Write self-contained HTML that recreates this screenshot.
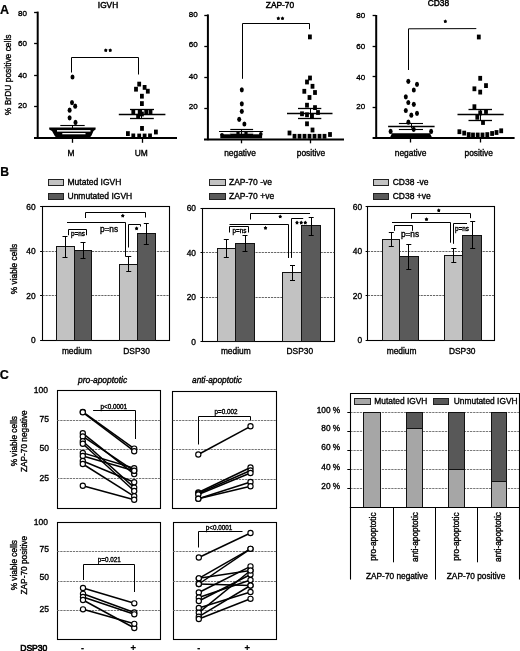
<!DOCTYPE html>
<html><head><meta charset="utf-8"><style>
html,body{margin:0;padding:0;background:#fff;}
body{width:520px;height:651px;overflow:hidden;}
svg{display:block;font-family:"Liberation Sans", sans-serif;}
text{-webkit-font-smoothing:antialiased;}
</style></head><body>
<svg style="filter:grayscale(1)" width="520" height="651" viewBox="0 0 520 651">
<rect width="520" height="651" fill="#fff"/>
<text x="4.6" y="10.0" font-size="12.5" text-anchor="middle" font-weight="bold" font-style="normal" fill="#000" stroke="#000" stroke-width="0.2" dominant-baseline="central">A</text>
<line x1="37.7" y1="11.6" x2="37.7" y2="138.9" stroke="#000" stroke-width="2.0"/>
<line x1="34.1" y1="12.5" x2="37.7" y2="12.5" stroke="#000" stroke-width="1.3"/>
<text x="27.0" y="13.0" font-size="8.0" text-anchor="end" font-weight="normal" font-style="normal" fill="#000" stroke="#000" stroke-width="0.35" dominant-baseline="central">80</text>
<line x1="34.1" y1="43.5" x2="37.7" y2="43.5" stroke="#000" stroke-width="1.3"/>
<text x="27.0" y="43.5" font-size="8.0" text-anchor="end" font-weight="normal" font-style="normal" fill="#000" stroke="#000" stroke-width="0.35" dominant-baseline="central">60</text>
<line x1="34.1" y1="75.5" x2="37.7" y2="75.5" stroke="#000" stroke-width="1.3"/>
<text x="27.0" y="75.1" font-size="8.0" text-anchor="end" font-weight="normal" font-style="normal" fill="#000" stroke="#000" stroke-width="0.35" dominant-baseline="central">40</text>
<line x1="34.1" y1="106.5" x2="37.7" y2="106.5" stroke="#000" stroke-width="1.3"/>
<text x="27.0" y="105.5" font-size="8.0" text-anchor="end" font-weight="normal" font-style="normal" fill="#000" stroke="#000" stroke-width="0.35" dominant-baseline="central">20</text>
<line x1="34.0" y1="138.1" x2="177" y2="138.1" stroke="#000" stroke-width="2.0"/>
<text x="108" y="4.8" font-size="8.3" text-anchor="middle" font-weight="normal" font-style="normal" fill="#000" stroke="#000" stroke-width="0.45" dominant-baseline="central">IGVH</text>
<text x="8.2" y="74.8" font-size="8.45" text-anchor="middle" font-weight="normal" font-style="normal" fill="#000" stroke="#000" stroke-width="0.35" dominant-baseline="central" transform="rotate(-90 8.2 74.8)">% BrDU positive cells</text>
<line x1="72.5" y1="138.5" x2="72.5" y2="142.8" stroke="#000" stroke-width="1.3"/>
<line x1="142.5" y1="138.5" x2="142.5" y2="142.8" stroke="#000" stroke-width="1.3"/>
<text x="71" y="153.2" font-size="8.4" text-anchor="middle" font-weight="normal" font-style="normal" fill="#000" stroke="#000" stroke-width="0.35" dominant-baseline="central">M</text>
<text x="141.3" y="153.2" font-size="8.4" text-anchor="middle" font-weight="normal" font-style="normal" fill="#000" stroke="#000" stroke-width="0.35" dominant-baseline="central">UM</text>
<polyline points="71.5,72.5 71.5,57.5 138.5,57.5 138.5,74.5" fill="none" stroke="#000" stroke-width="1.0"/>
<polygon points="105.8,48.17 106.46,49.34 107.73,49.64 106.87,50.67 106.99,52.02 105.8,51.48 104.61,52.02 104.73,50.67 103.87,49.64 105.14,49.34" fill="#000"/>
<ellipse cx="105.8" cy="50.4" rx="1.2000000000000002" ry="1.2000000000000002" fill="#000"/>
<polygon points="110.2,48.17 110.86,49.34 112.13,49.64 111.27,50.67 111.39,52.02 110.2,51.48 109.01,52.02 109.13,50.67 108.27,49.64 109.54,49.34" fill="#000"/>
<ellipse cx="110.2" cy="50.4" rx="1.2000000000000002" ry="1.2000000000000002" fill="#000"/>
<ellipse cx="72.5" cy="77" rx="2.0" ry="2.6" fill="#000"/>
<ellipse cx="72" cy="102.6" rx="2.0" ry="2.6" fill="#000"/>
<ellipse cx="75.2" cy="106.2" rx="2.0" ry="2.6" fill="#000"/>
<ellipse cx="69.6" cy="110.2" rx="2.0" ry="2.6" fill="#000"/>
<ellipse cx="69.6" cy="117.8" rx="2.0" ry="2.6" fill="#000"/>
<ellipse cx="75.5" cy="122.4" rx="2.0" ry="2.6" fill="#000"/>
<polygon points="49.2,127.6 95.6,127.6 95.6,129.4 93.5,131 91.5,135.5 89.5,138 56.5,138 54.5,135.5 52,131 49.2,129.4" fill="#000"/>
<rect x="57" y="130.1" width="33.5" height="1.5" fill="#fff"/>
<rect x="62.3" y="133.0" width="23.2" height="1.3" fill="#fff"/>
<line x1="60.3" y1="125.5" x2="84.7" y2="125.5" stroke="#000" stroke-width="1.1"/>
<line x1="72.5" y1="125.9" x2="72.5" y2="130" stroke="#000" stroke-width="1.0"/>
<line x1="62" y1="132.5" x2="85.7" y2="132.5" stroke="#000" stroke-width="0.9"/>
<rect x="137.3" y="81.7" width="3.8" height="4.8" fill="#000"/>
<rect x="134.1" y="86.8" width="3.8" height="4.8" fill="#000"/>
<rect x="142.7" y="85.0" width="3.8" height="4.8" fill="#000"/>
<rect x="145.9" y="88.8" width="3.8" height="4.8" fill="#000"/>
<rect x="140.0" y="93.8" width="3.8" height="4.8" fill="#000"/>
<rect x="140.0" y="101.2" width="3.8" height="4.8" fill="#000"/>
<rect x="131.4" y="109.6" width="3.8" height="4.8" fill="#000"/>
<rect x="137.8" y="109.9" width="3.8" height="4.8" fill="#000"/>
<rect x="144.3" y="109.6" width="3.8" height="4.8" fill="#000"/>
<rect x="148.6" y="109.9" width="3.8" height="4.8" fill="#000"/>
<rect x="136.2" y="113.9" width="3.8" height="4.8" fill="#000"/>
<rect x="140.0" y="111.6" width="3.8" height="4.8" fill="#000"/>
<rect x="140.1" y="126.0" width="3.8" height="4.8" fill="#000"/>
<rect x="126.0" y="131.2" width="3.8" height="4.8" fill="#000"/>
<rect x="131.4" y="133.5" width="3.8" height="4.8" fill="#000"/>
<rect x="137.3" y="133.6" width="3.8" height="4.8" fill="#000"/>
<rect x="142.7" y="133.6" width="3.8" height="4.8" fill="#000"/>
<rect x="148.1" y="133.5" width="3.8" height="4.8" fill="#000"/>
<rect x="154.0" y="129.6" width="3.8" height="4.8" fill="#000"/>
<line x1="118.8" y1="114.5" x2="165.4" y2="114.5" stroke="#000" stroke-width="1.5"/>
<line x1="130" y1="109.5" x2="154" y2="109.5" stroke="#000" stroke-width="1.3"/>
<line x1="130" y1="118.5" x2="153.8" y2="118.5" stroke="#000" stroke-width="1.3"/>
<line x1="141.5" y1="109.5" x2="141.5" y2="118.8" stroke="#000" stroke-width="1.0"/>
<line x1="207.9" y1="14.4" x2="207.9" y2="140.20000000000002" stroke="#000" stroke-width="2.0"/>
<line x1="204.3" y1="15.5" x2="207.9" y2="15.5" stroke="#000" stroke-width="1.3"/>
<text x="197.7" y="14.2" font-size="8.0" text-anchor="end" font-weight="normal" font-style="normal" fill="#000" stroke="#000" stroke-width="0.35" dominant-baseline="central">80</text>
<line x1="204.3" y1="46.5" x2="207.9" y2="46.5" stroke="#000" stroke-width="1.3"/>
<text x="197.7" y="44.5" font-size="8.0" text-anchor="end" font-weight="normal" font-style="normal" fill="#000" stroke="#000" stroke-width="0.35" dominant-baseline="central">60</text>
<line x1="204.3" y1="77.5" x2="207.9" y2="77.5" stroke="#000" stroke-width="1.3"/>
<text x="197.7" y="76.2" font-size="8.0" text-anchor="end" font-weight="normal" font-style="normal" fill="#000" stroke="#000" stroke-width="0.35" dominant-baseline="central">40</text>
<line x1="204.3" y1="108.5" x2="207.9" y2="108.5" stroke="#000" stroke-width="1.3"/>
<text x="197.7" y="106.3" font-size="8.0" text-anchor="end" font-weight="normal" font-style="normal" fill="#000" stroke="#000" stroke-width="0.35" dominant-baseline="central">20</text>
<line x1="204.0" y1="139.4" x2="344" y2="139.4" stroke="#000" stroke-width="2.0"/>
<text x="280" y="4.5" font-size="8.4" text-anchor="middle" font-weight="normal" font-style="normal" fill="#000" stroke="#000" stroke-width="0.45" dominant-baseline="central">ZAP-70</text>
<line x1="241.5" y1="139.1" x2="241.5" y2="143.3" stroke="#000" stroke-width="1.3"/>
<line x1="310.5" y1="139.1" x2="310.5" y2="143.3" stroke="#000" stroke-width="1.3"/>
<text x="240" y="153.4" font-size="8.4" text-anchor="middle" font-weight="normal" font-style="normal" fill="#000" stroke="#000" stroke-width="0.35" dominant-baseline="central">negative</text>
<text x="311" y="153.4" font-size="8.4" text-anchor="middle" font-weight="normal" font-style="normal" fill="#000" stroke="#000" stroke-width="0.35" dominant-baseline="central">positive</text>
<polyline points="242.5,78.8 242.5,23.5 309.5,23.5 309.5,29.2" fill="none" stroke="#000" stroke-width="1.0"/>
<polygon points="278.3,16.27 278.96,17.44 280.23,17.74 279.37,18.77 279.49,20.12 278.3,19.58 277.11,20.12 277.23,18.77 276.37,17.74 277.64,17.44" fill="#000"/>
<ellipse cx="278.3" cy="18.5" rx="1.2000000000000002" ry="1.2000000000000002" fill="#000"/>
<polygon points="282.5,16.27 283.16,17.44 284.43,17.74 283.57,18.77 283.69,20.12 282.5,19.58 281.31,20.12 281.43,18.77 280.57,17.74 281.84,17.44" fill="#000"/>
<ellipse cx="282.5" cy="18.5" rx="1.2000000000000002" ry="1.2000000000000002" fill="#000"/>
<ellipse cx="241.8" cy="89.8" rx="2.0" ry="2.6" fill="#000"/>
<ellipse cx="241.8" cy="103.8" rx="2.0" ry="2.6" fill="#000"/>
<ellipse cx="241.8" cy="111.3" rx="2.0" ry="2.6" fill="#000"/>
<ellipse cx="239.2" cy="119.3" rx="2.0" ry="2.6" fill="#000"/>
<ellipse cx="244.4" cy="124" rx="2.0" ry="2.6" fill="#000"/>
<rect x="220.3" y="134.3" width="41.8" height="4.0" fill="#000"/>
<ellipse cx="222" cy="134.6" rx="1.8" ry="1.6" fill="#000"/>
<ellipse cx="260.8" cy="133.9" rx="1.8" ry="1.9" fill="#000"/>
<rect x="229.8" y="132.5" width="23.5" height="1.8" fill="#aaa"/>
<line x1="230.3" y1="129.5" x2="253.1" y2="129.5" stroke="#000" stroke-width="1.2"/>
<line x1="219" y1="131.5" x2="263.1" y2="131.5" stroke="#000" stroke-width="1.2"/>
<line x1="230.3" y1="134.5" x2="253.1" y2="134.5" stroke="#000" stroke-width="1.0"/>
<line x1="241.5" y1="129.3" x2="241.5" y2="134.5" stroke="#000" stroke-width="1.0"/>
<rect x="236.4" y="131.2" width="3.2" height="3.6" fill="#000"/>
<rect x="244.4" y="131.2" width="3.2" height="3.6" fill="#000"/>
<rect x="308.0" y="34.5" width="3.8" height="4.8" fill="#000"/>
<rect x="308.1" y="75.6" width="3.8" height="4.8" fill="#000"/>
<rect x="305.1" y="79.6" width="3.8" height="4.8" fill="#000"/>
<rect x="310.6" y="83.9" width="3.8" height="4.8" fill="#000"/>
<rect x="302.4" y="88.9" width="3.8" height="4.8" fill="#000"/>
<rect x="313.1" y="90.1" width="3.8" height="4.8" fill="#000"/>
<rect x="307.6" y="95.1" width="3.8" height="4.8" fill="#000"/>
<rect x="305.1" y="102.8" width="3.8" height="4.8" fill="#000"/>
<rect x="313.1" y="105.2" width="3.8" height="4.8" fill="#000"/>
<rect x="300.1" y="111.4" width="3.8" height="4.8" fill="#000"/>
<rect x="305.1" y="112.4" width="3.8" height="4.8" fill="#000"/>
<rect x="310.1" y="113.2" width="3.8" height="4.8" fill="#000"/>
<rect x="316.1" y="110.1" width="3.8" height="4.8" fill="#000"/>
<rect x="305.1" y="121.4" width="3.8" height="4.8" fill="#000"/>
<rect x="310.6" y="127.6" width="3.8" height="4.8" fill="#000"/>
<rect x="287.6" y="130.6" width="3.8" height="4.8" fill="#000"/>
<rect x="292.6" y="133.9" width="3.8" height="4.8" fill="#000"/>
<rect x="297.6" y="133.9" width="3.8" height="4.8" fill="#000"/>
<rect x="302.6" y="133.9" width="3.8" height="4.8" fill="#000"/>
<rect x="307.6" y="133.9" width="3.8" height="4.8" fill="#000"/>
<rect x="312.6" y="133.9" width="3.8" height="4.8" fill="#000"/>
<rect x="317.6" y="133.9" width="3.8" height="4.8" fill="#000"/>
<rect x="322.6" y="133.9" width="3.8" height="4.8" fill="#000"/>
<rect x="328.1" y="132.1" width="3.8" height="4.8" fill="#000"/>
<line x1="287" y1="113.5" x2="332.5" y2="113.5" stroke="#000" stroke-width="1.5"/>
<line x1="298" y1="108.5" x2="321.3" y2="108.5" stroke="#000" stroke-width="1.3"/>
<line x1="298" y1="118.5" x2="321.3" y2="118.5" stroke="#000" stroke-width="1.3"/>
<line x1="310.5" y1="108" x2="310.5" y2="118.8" stroke="#000" stroke-width="1.0"/>
<line x1="376.2" y1="15.0" x2="376.2" y2="138.8" stroke="#000" stroke-width="2.0"/>
<line x1="372.59999999999997" y1="15.5" x2="376.2" y2="15.5" stroke="#000" stroke-width="1.3"/>
<text x="365.2" y="15.2" font-size="8.0" text-anchor="end" font-weight="normal" font-style="normal" fill="#000" stroke="#000" stroke-width="0.35" dominant-baseline="central">80</text>
<line x1="372.59999999999997" y1="46.5" x2="376.2" y2="46.5" stroke="#000" stroke-width="1.3"/>
<text x="365.2" y="46" font-size="8.0" text-anchor="end" font-weight="normal" font-style="normal" fill="#000" stroke="#000" stroke-width="0.35" dominant-baseline="central">60</text>
<line x1="372.59999999999997" y1="76.5" x2="376.2" y2="76.5" stroke="#000" stroke-width="1.3"/>
<text x="365.2" y="77.2" font-size="8.0" text-anchor="end" font-weight="normal" font-style="normal" fill="#000" stroke="#000" stroke-width="0.35" dominant-baseline="central">40</text>
<line x1="372.59999999999997" y1="107.5" x2="376.2" y2="107.5" stroke="#000" stroke-width="1.3"/>
<text x="365.2" y="106.8" font-size="8.0" text-anchor="end" font-weight="normal" font-style="normal" fill="#000" stroke="#000" stroke-width="0.35" dominant-baseline="central">20</text>
<line x1="372.6" y1="138.0" x2="514.6" y2="138.0" stroke="#000" stroke-width="2.0"/>
<text x="438.4" y="3.2" font-size="8.4" text-anchor="middle" font-weight="normal" font-style="normal" fill="#000" stroke="#000" stroke-width="0.45" dominant-baseline="central">CD38</text>
<line x1="410.5" y1="138.1" x2="410.5" y2="142.5" stroke="#000" stroke-width="1.3"/>
<line x1="480.5" y1="138.1" x2="480.5" y2="142.5" stroke="#000" stroke-width="1.3"/>
<text x="410.6" y="152.7" font-size="8.4" text-anchor="middle" font-weight="normal" font-style="normal" fill="#000" stroke="#000" stroke-width="0.35" dominant-baseline="central">negative</text>
<text x="478.7" y="152.5" font-size="8.4" text-anchor="middle" font-weight="normal" font-style="normal" fill="#000" stroke="#000" stroke-width="0.35" dominant-baseline="central">positive</text>
<polyline points="408.5,70 408.5,28.8 476.3,28.6" fill="none" stroke="#000" stroke-width="1.0"/>
<polygon points="445.3,19.27 445.96,20.44 447.23,20.74 446.37,21.77 446.49,23.12 445.3,22.58 444.11,23.12 444.23,21.77 443.37,20.74 444.64,20.44" fill="#000"/>
<ellipse cx="445.3" cy="21.5" rx="1.2000000000000002" ry="1.2000000000000002" fill="#000"/>
<ellipse cx="408.3" cy="81.3" rx="2.0" ry="2.6" fill="#000"/>
<ellipse cx="417" cy="84.3" rx="2.0" ry="2.6" fill="#000"/>
<ellipse cx="413.8" cy="90" rx="2.0" ry="2.6" fill="#000"/>
<ellipse cx="405.8" cy="96.8" rx="2.0" ry="2.6" fill="#000"/>
<ellipse cx="408.3" cy="102.5" rx="2.0" ry="2.6" fill="#000"/>
<ellipse cx="413.8" cy="104.3" rx="2.0" ry="2.6" fill="#000"/>
<ellipse cx="405.8" cy="110.5" rx="2.0" ry="2.6" fill="#000"/>
<ellipse cx="417" cy="113.3" rx="2.0" ry="2.6" fill="#000"/>
<ellipse cx="411.3" cy="115.2" rx="2.0" ry="2.6" fill="#000"/>
<ellipse cx="408.4" cy="122.2" rx="2.0" ry="2.6" fill="#000"/>
<ellipse cx="413.7" cy="129.3" rx="2.0" ry="2.6" fill="#000"/>
<ellipse cx="390.6" cy="131.4" rx="2.0" ry="2.6" fill="#000"/>
<ellipse cx="431.1" cy="131.4" rx="2.0" ry="2.6" fill="#000"/>
<polygon points="392,133.2 430,133.2 432,137.6 390,137.6" fill="#000"/>
<line x1="398.9" y1="123.5" x2="423" y2="123.5" stroke="#000" stroke-width="1.1"/>
<line x1="388.1" y1="126.5" x2="434.6" y2="126.5" stroke="#000" stroke-width="1.6"/>
<line x1="398.9" y1="129.5" x2="423" y2="129.5" stroke="#000" stroke-width="1.1"/>
<line x1="411.5" y1="123.5" x2="411.5" y2="128.5" stroke="#000" stroke-width="1.0"/>
<rect x="476.9" y="34.6" width="3.8" height="4.8" fill="#000"/>
<rect x="478.3" y="75.9" width="3.8" height="4.8" fill="#000"/>
<rect x="484.1" y="83.2" width="3.8" height="4.8" fill="#000"/>
<rect x="472.5" y="86.4" width="3.8" height="4.8" fill="#000"/>
<rect x="478.3" y="89.7" width="3.8" height="4.8" fill="#000"/>
<rect x="472.5" y="104.3" width="3.8" height="4.8" fill="#000"/>
<rect x="484.1" y="109.1" width="3.8" height="4.8" fill="#000"/>
<rect x="478.3" y="110.5" width="3.8" height="4.8" fill="#000"/>
<rect x="475.4" y="114.9" width="3.8" height="4.8" fill="#000"/>
<rect x="481.1" y="120.1" width="3.8" height="4.8" fill="#000"/>
<rect x="457.5" y="129.3" width="3.8" height="4.8" fill="#000"/>
<rect x="462.3" y="130.7" width="3.8" height="4.8" fill="#000"/>
<rect x="466.8" y="132.2" width="3.8" height="4.8" fill="#000"/>
<rect x="471.1" y="132.6" width="3.8" height="4.8" fill="#000"/>
<rect x="475.8" y="132.6" width="3.8" height="4.8" fill="#000"/>
<rect x="480.6" y="132.6" width="3.8" height="4.8" fill="#000"/>
<rect x="485.4" y="132.2" width="3.8" height="4.8" fill="#000"/>
<rect x="490.2" y="131.1" width="3.8" height="4.8" fill="#000"/>
<rect x="494.6" y="130.1" width="3.8" height="4.8" fill="#000"/>
<rect x="499.3" y="128.4" width="3.8" height="4.8" fill="#000"/>
<line x1="457.5" y1="114.5" x2="503.7" y2="114.5" stroke="#000" stroke-width="1.5"/>
<line x1="468.5" y1="109.5" x2="492" y2="109.5" stroke="#000" stroke-width="1.3"/>
<line x1="468.5" y1="120.5" x2="492" y2="120.5" stroke="#000" stroke-width="1.3"/>
<line x1="480.5" y1="109" x2="480.5" y2="120.6" stroke="#000" stroke-width="1.0"/>
<text x="4.6" y="171.5" font-size="12.2" text-anchor="middle" font-weight="bold" font-style="normal" fill="#000" stroke="#000" stroke-width="0.2" dominant-baseline="central">B</text>
<rect x="42.5" y="206.5" width="127.0" height="134.0" fill="none" stroke="#000" stroke-width="1.1"/>
<line x1="40.1" y1="206.5" x2="42.4" y2="206.5" stroke="#000" stroke-width="1.0"/>
<text x="35.6" y="206.79999999999998" font-size="8.4" text-anchor="end" font-weight="normal" font-style="normal" fill="#000" stroke="#000" stroke-width="0.35" dominant-baseline="central">60</text>
<line x1="42.4" y1="251.5" x2="169.6" y2="251.5" stroke="#555" stroke-width="0.9" stroke-dasharray="2.2,0.9"/>
<line x1="40.1" y1="251.5" x2="42.4" y2="251.5" stroke="#000" stroke-width="1.0"/>
<text x="35.6" y="251.33333333333331" font-size="8.4" text-anchor="end" font-weight="normal" font-style="normal" fill="#000" stroke="#000" stroke-width="0.35" dominant-baseline="central">40</text>
<line x1="42.4" y1="295.5" x2="169.6" y2="295.5" stroke="#555" stroke-width="0.9" stroke-dasharray="2.2,0.9"/>
<line x1="40.1" y1="295.5" x2="42.4" y2="295.5" stroke="#000" stroke-width="1.0"/>
<text x="35.6" y="295.8666666666666" font-size="8.4" text-anchor="end" font-weight="normal" font-style="normal" fill="#000" stroke="#000" stroke-width="0.35" dominant-baseline="central">20</text>
<line x1="40.1" y1="340.5" x2="42.4" y2="340.5" stroke="#000" stroke-width="1.0"/>
<text x="35.6" y="340.4" font-size="8.4" text-anchor="end" font-weight="normal" font-style="normal" fill="#000" stroke="#000" stroke-width="0.35" dominant-baseline="central">0</text>
<rect x="48.5" y="179.5" width="15.0" height="6.0" fill="#c2c2c2" stroke="#222" stroke-width="1.0"/>
<rect x="48.5" y="193.5" width="15.0" height="6.0" fill="#5a5a5a" stroke="#222" stroke-width="1.0"/>
<text x="67.5" y="182.3" font-size="8.5" text-anchor="start" font-weight="normal" font-style="normal" fill="#000" stroke="#000" stroke-width="0.35" dominant-baseline="central">Mutated IGVH</text>
<text x="67.5" y="195.8" font-size="8.5" text-anchor="start" font-weight="normal" font-style="normal" fill="#000" stroke="#000" stroke-width="0.35" dominant-baseline="central">Unmutated IGVH</text>
<rect x="56.5" y="246.5" width="18.0" height="94.0" fill="#c2c2c2" stroke="#111" stroke-width="1.0"/>
<rect x="74.5" y="250.5" width="17.0" height="90.0" fill="#5a5a5a" stroke="#111" stroke-width="1.0"/>
<rect x="119.5" y="264.5" width="18.0" height="76.0" fill="#c2c2c2" stroke="#111" stroke-width="1.0"/>
<rect x="137.5" y="233.5" width="18.0" height="107.0" fill="#5a5a5a" stroke="#111" stroke-width="1.0"/>
<line x1="65.5" y1="236.3" x2="65.5" y2="257" stroke="#000" stroke-width="1.0"/>
<line x1="62.5" y1="236.5" x2="67.5" y2="236.5" stroke="#000" stroke-width="1.0"/>
<line x1="62.5" y1="257.5" x2="67.5" y2="257.5" stroke="#000" stroke-width="1.0"/>
<line x1="83.5" y1="242.5" x2="83.5" y2="258" stroke="#000" stroke-width="1.0"/>
<line x1="80.5" y1="242.5" x2="85.5" y2="242.5" stroke="#000" stroke-width="1.0"/>
<line x1="80.5" y1="258.5" x2="85.5" y2="258.5" stroke="#000" stroke-width="1.0"/>
<line x1="128.5" y1="256.9" x2="128.5" y2="271.9" stroke="#000" stroke-width="1.0"/>
<line x1="126.25" y1="256.5" x2="131.25" y2="256.5" stroke="#000" stroke-width="1.0"/>
<line x1="126.25" y1="271.5" x2="131.25" y2="271.5" stroke="#000" stroke-width="1.0"/>
<line x1="146.5" y1="223.4" x2="146.5" y2="244.4" stroke="#000" stroke-width="1.0"/>
<line x1="143.8" y1="223.5" x2="148.8" y2="223.5" stroke="#000" stroke-width="1.0"/>
<line x1="143.8" y1="244.5" x2="148.8" y2="244.5" stroke="#000" stroke-width="1.0"/>
<text x="76.8" y="351.1" font-size="8.4" text-anchor="middle" font-weight="normal" font-style="normal" fill="#000" stroke="#000" stroke-width="0.35" dominant-baseline="central">medium</text>
<text x="136.6" y="351.1" font-size="8.4" text-anchor="middle" font-weight="normal" font-style="normal" fill="#000" stroke="#000" stroke-width="0.35" dominant-baseline="central">DSP30</text>
<text x="13.5" y="269" font-size="8.3" text-anchor="middle" font-weight="normal" font-style="normal" fill="#000" stroke="#000" stroke-width="0.35" dominant-baseline="central" transform="rotate(-90 13.5 269)">% viable cells</text>
<polyline points="68.5,235.2 68.5,229.5 86.5,229.5 86.5,235.2" fill="none" stroke="#000" stroke-width="1.0"/>
<text x="78" y="233.9" font-size="6.3" text-anchor="middle" font-weight="normal" font-style="normal" fill="#000" stroke="#000" stroke-width="0.35" dominant-baseline="central">p=ns</text>
<polyline points="67,222.5 125.5,222.5 125.5,256.5 129,256.5" fill="none" stroke="#000" stroke-width="1.0"/>
<text x="109" y="229.4" font-size="8.3" text-anchor="middle" font-weight="normal" font-style="normal" fill="#000" stroke="#000" stroke-width="0.35" dominant-baseline="central">p=ns</text>
<polyline points="85.5,218 85.5,212.5 145.5,212.5 145.5,217.5" fill="none" stroke="#000" stroke-width="1.0"/>
<polygon points="122.8,213.67 123.46,214.84 124.73,215.14 123.87,216.17 123.99,217.52 122.8,216.98 121.61,217.52 121.73,216.17 120.87,215.14 122.14,214.84" fill="#000"/>
<ellipse cx="122.8" cy="215.9" rx="1.2000000000000002" ry="1.2000000000000002" fill="#000"/>
<polyline points="128.5,247.5 128.5,224.5 140.5,224.5 140.5,226.5" fill="none" stroke="#000" stroke-width="1.0"/>
<polygon points="136.6,226.37 137.26,227.54 138.53,227.84 137.67,228.87 137.79,230.22 136.6,229.68 135.41,230.22 135.53,228.87 134.67,227.84 135.94,227.54" fill="#000"/>
<ellipse cx="136.6" cy="228.6" rx="1.2000000000000002" ry="1.2000000000000002" fill="#000"/>
<rect x="202.5" y="208.5" width="132.0" height="133.0" fill="none" stroke="#000" stroke-width="1.1"/>
<line x1="200.5" y1="208.5" x2="202.8" y2="208.5" stroke="#000" stroke-width="1.0"/>
<text x="196.0" y="208.39999999999998" font-size="8.4" text-anchor="end" font-weight="normal" font-style="normal" fill="#000" stroke="#000" stroke-width="0.35" dominant-baseline="central">60</text>
<line x1="202.8" y1="252.5" x2="334.2" y2="252.5" stroke="#555" stroke-width="0.9" stroke-dasharray="2.2,0.9"/>
<line x1="200.5" y1="252.5" x2="202.8" y2="252.5" stroke="#000" stroke-width="1.0"/>
<text x="196.0" y="252.89999999999998" font-size="8.4" text-anchor="end" font-weight="normal" font-style="normal" fill="#000" stroke="#000" stroke-width="0.35" dominant-baseline="central">40</text>
<line x1="202.8" y1="297.5" x2="334.2" y2="297.5" stroke="#555" stroke-width="0.9" stroke-dasharray="2.2,0.9"/>
<line x1="200.5" y1="297.5" x2="202.8" y2="297.5" stroke="#000" stroke-width="1.0"/>
<text x="196.0" y="297.4" font-size="8.4" text-anchor="end" font-weight="normal" font-style="normal" fill="#000" stroke="#000" stroke-width="0.35" dominant-baseline="central">20</text>
<line x1="200.5" y1="341.5" x2="202.8" y2="341.5" stroke="#000" stroke-width="1.0"/>
<text x="196.0" y="341.9" font-size="8.4" text-anchor="end" font-weight="normal" font-style="normal" fill="#000" stroke="#000" stroke-width="0.35" dominant-baseline="central">0</text>
<rect x="209.5" y="179.5" width="16.0" height="6.0" fill="#c2c2c2" stroke="#222" stroke-width="1.0"/>
<rect x="209.5" y="193.5" width="16.0" height="6.0" fill="#5a5a5a" stroke="#222" stroke-width="1.0"/>
<text x="229.0" y="182.3" font-size="8.5" text-anchor="start" font-weight="normal" font-style="normal" fill="#000" stroke="#000" stroke-width="0.35" dominant-baseline="central">ZAP-70 -ve</text>
<text x="229.0" y="195.8" font-size="8.5" text-anchor="start" font-weight="normal" font-style="normal" fill="#000" stroke="#000" stroke-width="0.35" dominant-baseline="central">ZAP-70 +ve</text>
<rect x="217.5" y="248.5" width="18.0" height="93.0" fill="#c2c2c2" stroke="#111" stroke-width="1.0"/>
<rect x="235.5" y="243.5" width="19.0" height="98.0" fill="#5a5a5a" stroke="#111" stroke-width="1.0"/>
<rect x="282.5" y="272.5" width="19.0" height="69.0" fill="#c2c2c2" stroke="#111" stroke-width="1.0"/>
<rect x="301.5" y="225.5" width="19.0" height="116.0" fill="#5a5a5a" stroke="#111" stroke-width="1.0"/>
<line x1="226.5" y1="239.3" x2="226.5" y2="257.3" stroke="#000" stroke-width="1.0"/>
<line x1="223.8" y1="239.5" x2="228.8" y2="239.5" stroke="#000" stroke-width="1.0"/>
<line x1="223.8" y1="257.5" x2="228.8" y2="257.5" stroke="#000" stroke-width="1.0"/>
<line x1="245.5" y1="235.5" x2="245.5" y2="251.8" stroke="#000" stroke-width="1.0"/>
<line x1="242.5" y1="235.5" x2="247.5" y2="235.5" stroke="#000" stroke-width="1.0"/>
<line x1="242.5" y1="251.5" x2="247.5" y2="251.5" stroke="#000" stroke-width="1.0"/>
<line x1="292.5" y1="265" x2="292.5" y2="280.5" stroke="#000" stroke-width="1.0"/>
<line x1="290.0" y1="265.5" x2="295.0" y2="265.5" stroke="#000" stroke-width="1.0"/>
<line x1="290.0" y1="280.5" x2="295.0" y2="280.5" stroke="#000" stroke-width="1.0"/>
<line x1="311.5" y1="217" x2="311.5" y2="235" stroke="#000" stroke-width="1.0"/>
<line x1="308.7" y1="217.5" x2="313.7" y2="217.5" stroke="#000" stroke-width="1.0"/>
<line x1="308.7" y1="235.5" x2="313.7" y2="235.5" stroke="#000" stroke-width="1.0"/>
<text x="235.8" y="351.1" font-size="8.4" text-anchor="middle" font-weight="normal" font-style="normal" fill="#000" stroke="#000" stroke-width="0.35" dominant-baseline="central">medium</text>
<text x="299.8" y="351.1" font-size="8.4" text-anchor="middle" font-weight="normal" font-style="normal" fill="#000" stroke="#000" stroke-width="0.35" dominant-baseline="central">DSP30</text>
<polyline points="229.5,232.5 229.5,226.5 248.5,226.5 248.5,232.5" fill="none" stroke="#000" stroke-width="1.0"/>
<text x="239.5" y="230.6" font-size="6.3" text-anchor="middle" font-weight="normal" font-style="normal" fill="#000" stroke="#000" stroke-width="0.35" dominant-baseline="central">p=ns</text>
<polyline points="229.5,224.5 288.5,224.5 288.5,258" fill="none" stroke="#000" stroke-width="1.0"/>
<polygon points="265.5,225.87 266.16,227.04 267.43,227.34 266.57,228.37 266.69,229.72 265.5,229.18 264.31,229.72 264.43,228.37 263.57,227.34 264.84,227.04" fill="#000"/>
<ellipse cx="265.5" cy="228.1" rx="1.2000000000000002" ry="1.2000000000000002" fill="#000"/>
<polyline points="250.5,219.5 250.5,213.5 310,213.5" fill="none" stroke="#000" stroke-width="1.0"/>
<polygon points="280.2,214.47 280.86,215.64 282.13,215.94 281.27,216.97 281.39,218.32 280.2,217.78 279.01,218.32 279.13,216.97 278.27,215.94 279.54,215.64" fill="#000"/>
<ellipse cx="280.2" cy="216.7" rx="1.2000000000000002" ry="1.2000000000000002" fill="#000"/>
<polyline points="291.5,257.9 291.5,218.5 303.2,218.5" fill="none" stroke="#000" stroke-width="1.0"/>
<polygon points="297.0,220.57 297.66,221.74 298.93,222.04 298.07,223.07 298.19,224.42 297.0,223.88 295.81,224.42 295.93,223.07 295.07,222.04 296.34,221.74" fill="#000"/>
<ellipse cx="297" cy="222.79999999999998" rx="1.2000000000000002" ry="1.2000000000000002" fill="#000"/>
<polygon points="301.2,220.57 301.86,221.74 303.13,222.04 302.27,223.07 302.39,224.42 301.2,223.88 300.01,224.42 300.13,223.07 299.27,222.04 300.54,221.74" fill="#000"/>
<ellipse cx="301.2" cy="222.79999999999998" rx="1.2000000000000002" ry="1.2000000000000002" fill="#000"/>
<polygon points="305.3,220.57 305.96,221.74 307.23,222.04 306.37,223.07 306.49,224.42 305.3,223.88 304.11,224.42 304.23,223.07 303.37,222.04 304.64,221.74" fill="#000"/>
<ellipse cx="305.3" cy="222.79999999999998" rx="1.2000000000000002" ry="1.2000000000000002" fill="#000"/>
<rect x="367.5" y="206.5" width="127.0" height="134.0" fill="none" stroke="#000" stroke-width="1.1"/>
<line x1="365.59999999999997" y1="206.5" x2="367.9" y2="206.5" stroke="#000" stroke-width="1.0"/>
<text x="362.2" y="207.0" font-size="8.4" text-anchor="end" font-weight="normal" font-style="normal" fill="#000" stroke="#000" stroke-width="0.35" dominant-baseline="central">60</text>
<line x1="367.9" y1="251.5" x2="494.4" y2="251.5" stroke="#555" stroke-width="0.9" stroke-dasharray="2.2,0.9"/>
<line x1="365.59999999999997" y1="251.5" x2="367.9" y2="251.5" stroke="#000" stroke-width="1.0"/>
<text x="362.2" y="251.46666666666667" font-size="8.4" text-anchor="end" font-weight="normal" font-style="normal" fill="#000" stroke="#000" stroke-width="0.35" dominant-baseline="central">40</text>
<line x1="367.9" y1="295.5" x2="494.4" y2="295.5" stroke="#555" stroke-width="0.9" stroke-dasharray="2.2,0.9"/>
<line x1="365.59999999999997" y1="295.5" x2="367.9" y2="295.5" stroke="#000" stroke-width="1.0"/>
<text x="362.2" y="295.93333333333334" font-size="8.4" text-anchor="end" font-weight="normal" font-style="normal" fill="#000" stroke="#000" stroke-width="0.35" dominant-baseline="central">20</text>
<line x1="365.59999999999997" y1="340.5" x2="367.9" y2="340.5" stroke="#000" stroke-width="1.0"/>
<text x="362.2" y="340.4" font-size="8.4" text-anchor="end" font-weight="normal" font-style="normal" fill="#000" stroke="#000" stroke-width="0.35" dominant-baseline="central">0</text>
<rect x="373.5" y="179.5" width="15.0" height="6.0" fill="#c2c2c2" stroke="#222" stroke-width="1.0"/>
<rect x="373.5" y="193.5" width="15.0" height="6.0" fill="#5a5a5a" stroke="#222" stroke-width="1.0"/>
<text x="392.7" y="182.3" font-size="8.5" text-anchor="start" font-weight="normal" font-style="normal" fill="#000" stroke="#000" stroke-width="0.35" dominant-baseline="central">CD38 -ve</text>
<text x="392.7" y="195.8" font-size="8.5" text-anchor="start" font-weight="normal" font-style="normal" fill="#000" stroke="#000" stroke-width="0.35" dominant-baseline="central">CD38 +ve</text>
<rect x="382.5" y="239.5" width="17.0" height="101.0" fill="#c2c2c2" stroke="#111" stroke-width="1.0"/>
<rect x="399.5" y="256.5" width="19.0" height="84.0" fill="#5a5a5a" stroke="#111" stroke-width="1.0"/>
<rect x="444.5" y="255.5" width="18.0" height="85.0" fill="#c2c2c2" stroke="#111" stroke-width="1.0"/>
<rect x="462.5" y="235.5" width="19.0" height="105.0" fill="#5a5a5a" stroke="#111" stroke-width="1.0"/>
<line x1="391.5" y1="232.5" x2="391.5" y2="246.3" stroke="#000" stroke-width="1.0"/>
<line x1="388.8" y1="232.5" x2="393.8" y2="232.5" stroke="#000" stroke-width="1.0"/>
<line x1="388.8" y1="246.5" x2="393.8" y2="246.5" stroke="#000" stroke-width="1.0"/>
<line x1="408.5" y1="244.3" x2="408.5" y2="269.2" stroke="#000" stroke-width="1.0"/>
<line x1="406.3" y1="244.5" x2="411.3" y2="244.5" stroke="#000" stroke-width="1.0"/>
<line x1="406.3" y1="269.5" x2="411.3" y2="269.5" stroke="#000" stroke-width="1.0"/>
<line x1="453.5" y1="248.5" x2="453.5" y2="262.8" stroke="#000" stroke-width="1.0"/>
<line x1="451.3" y1="248.5" x2="456.3" y2="248.5" stroke="#000" stroke-width="1.0"/>
<line x1="451.3" y1="262.5" x2="456.3" y2="262.5" stroke="#000" stroke-width="1.0"/>
<line x1="472.5" y1="221.9" x2="472.5" y2="248" stroke="#000" stroke-width="1.0"/>
<line x1="470.2" y1="221.5" x2="475.2" y2="221.5" stroke="#000" stroke-width="1.0"/>
<line x1="470.2" y1="248.5" x2="475.2" y2="248.5" stroke="#000" stroke-width="1.0"/>
<text x="401.6" y="351.1" font-size="8.4" text-anchor="middle" font-weight="normal" font-style="normal" fill="#000" stroke="#000" stroke-width="0.35" dominant-baseline="central">medium</text>
<text x="462.2" y="351.1" font-size="8.4" text-anchor="middle" font-weight="normal" font-style="normal" fill="#000" stroke="#000" stroke-width="0.35" dominant-baseline="central">DSP30</text>
<polyline points="394.5,230.8 394.5,225.5 412.5,225.5 412.5,230.8" fill="none" stroke="#000" stroke-width="1.0"/>
<text x="410.0" y="233.8" font-size="8.3" text-anchor="middle" font-weight="normal" font-style="normal" fill="#000" stroke="#000" stroke-width="0.35" dominant-baseline="central">p=ns</text>
<polyline points="392,222.5 450.5,222.5 450.5,242.7" fill="none" stroke="#000" stroke-width="1.0"/>
<polygon points="426.5,217.17 427.16,218.34 428.43,218.64 427.57,219.67 427.69,221.02 426.5,220.48 425.31,221.02 425.43,219.67 424.57,218.64 425.84,218.34" fill="#000"/>
<ellipse cx="426.5" cy="219.4" rx="1.2000000000000002" ry="1.2000000000000002" fill="#000"/>
<polyline points="411.5,218.7 411.5,213.5 470.5,213.5 470.5,218.2" fill="none" stroke="#000" stroke-width="1.0"/>
<polygon points="438.8,208.37 439.46,209.54 440.73,209.84 439.87,210.87 439.99,212.22 438.8,211.68 437.61,212.22 437.73,210.87 436.87,209.84 438.14,209.54" fill="#000"/>
<ellipse cx="438.8" cy="210.6" rx="1.2000000000000002" ry="1.2000000000000002" fill="#000"/>
<polyline points="453.5,243.8 453.5,223.5 467,223.5" fill="none" stroke="#000" stroke-width="1.0"/>
<text x="462" y="228.6" font-size="6.3" text-anchor="middle" font-weight="normal" font-style="normal" fill="#000" stroke="#000" stroke-width="0.35" dominant-baseline="central">p=ns</text>
<text x="4.4" y="374.7" font-size="12.6" text-anchor="middle" font-weight="bold" font-style="normal" fill="#000" stroke="#000" stroke-width="0.2" dominant-baseline="central">C</text>
<text x="102.6" y="379.9" font-size="8.45" text-anchor="middle" font-weight="normal" font-style="italic" fill="#000" stroke="#000" stroke-width="0.35" dominant-baseline="central">pro-apoptotic</text>
<text x="217" y="380.2" font-size="8.3" text-anchor="middle" font-weight="normal" font-style="italic" fill="#000" stroke="#000" stroke-width="0.35" dominant-baseline="central">anti-apoptotic</text>
<rect x="57.5" y="390.5" width="103.0" height="118.0" fill="none" stroke="#000" stroke-width="1.1"/>
<line x1="57.1" y1="420.5" x2="160.5" y2="420.5" stroke="#666" stroke-width="0.9" stroke-dasharray="2.3,0.85"/>
<line x1="57.1" y1="449.5" x2="160.5" y2="449.5" stroke="#666" stroke-width="0.9" stroke-dasharray="2.3,0.85"/>
<line x1="57.1" y1="478.5" x2="160.5" y2="478.5" stroke="#666" stroke-width="0.9" stroke-dasharray="2.3,0.85"/>
<text x="48.0" y="389.8" font-size="8.5" text-anchor="end" font-weight="normal" font-style="normal" fill="#000" stroke="#000" stroke-width="0.35" dominant-baseline="central">100</text>
<text x="49.0" y="419.0" font-size="8.5" text-anchor="end" font-weight="normal" font-style="normal" fill="#000" stroke="#000" stroke-width="0.35" dominant-baseline="central">75</text>
<text x="49.0" y="447.5" font-size="8.5" text-anchor="end" font-weight="normal" font-style="normal" fill="#000" stroke="#000" stroke-width="0.35" dominant-baseline="central">50</text>
<text x="49.0" y="478.2" font-size="8.5" text-anchor="end" font-weight="normal" font-style="normal" fill="#000" stroke="#000" stroke-width="0.35" dominant-baseline="central">25</text>
<rect x="172.5" y="391.5" width="104.0" height="117.0" fill="none" stroke="#000" stroke-width="1.1"/>
<line x1="172.7" y1="420.5" x2="276.6" y2="420.5" stroke="#666" stroke-width="0.9" stroke-dasharray="2.3,0.85"/>
<line x1="172.7" y1="449.5" x2="276.6" y2="449.5" stroke="#666" stroke-width="0.9" stroke-dasharray="2.3,0.85"/>
<line x1="172.7" y1="479.5" x2="276.6" y2="479.5" stroke="#666" stroke-width="0.9" stroke-dasharray="2.3,0.85"/>
<rect x="57.5" y="522.5" width="103.0" height="117.0" fill="none" stroke="#000" stroke-width="1.1"/>
<line x1="57.1" y1="551.5" x2="160.5" y2="551.5" stroke="#666" stroke-width="0.9" stroke-dasharray="2.3,0.85"/>
<line x1="57.1" y1="581.5" x2="160.5" y2="581.5" stroke="#666" stroke-width="0.9" stroke-dasharray="2.3,0.85"/>
<line x1="57.1" y1="610.5" x2="160.5" y2="610.5" stroke="#666" stroke-width="0.9" stroke-dasharray="2.3,0.85"/>
<text x="48.0" y="522.2" font-size="8.5" text-anchor="end" font-weight="normal" font-style="normal" fill="#000" stroke="#000" stroke-width="0.35" dominant-baseline="central">100</text>
<text x="49.0" y="549.3" font-size="8.5" text-anchor="end" font-weight="normal" font-style="normal" fill="#000" stroke="#000" stroke-width="0.35" dominant-baseline="central">75</text>
<text x="49.0" y="577.4" font-size="8.5" text-anchor="end" font-weight="normal" font-style="normal" fill="#000" stroke="#000" stroke-width="0.35" dominant-baseline="central">50</text>
<text x="49.0" y="608.9" font-size="8.5" text-anchor="end" font-weight="normal" font-style="normal" fill="#000" stroke="#000" stroke-width="0.35" dominant-baseline="central">25</text>
<rect x="173.5" y="522.5" width="103.0" height="117.0" fill="none" stroke="#000" stroke-width="1.1"/>
<line x1="173.0" y1="551.5" x2="276.4" y2="551.5" stroke="#666" stroke-width="0.9" stroke-dasharray="2.3,0.85"/>
<line x1="173.0" y1="581.5" x2="276.4" y2="581.5" stroke="#666" stroke-width="0.9" stroke-dasharray="2.3,0.85"/>
<line x1="173.0" y1="610.5" x2="276.4" y2="610.5" stroke="#666" stroke-width="0.9" stroke-dasharray="2.3,0.85"/>
<text x="13.8" y="441.2" font-size="8.3" text-anchor="middle" font-weight="normal" font-style="normal" fill="#000" stroke="#000" stroke-width="0.35" dominant-baseline="central" transform="rotate(-90 13.8 441.2)">% viable cells</text>
<text x="23.6" y="441.2" font-size="8.3" text-anchor="middle" font-weight="normal" font-style="normal" fill="#000" stroke="#000" stroke-width="0.35" dominant-baseline="central" transform="rotate(-90 23.6 441.2)">ZAP-70 negative</text>
<text x="13.8" y="565.2" font-size="8.3" text-anchor="middle" font-weight="normal" font-style="normal" fill="#000" stroke="#000" stroke-width="0.35" dominant-baseline="central" transform="rotate(-90 13.8 565.2)">% viable cells</text>
<text x="23.6" y="565.2" font-size="8.3" text-anchor="middle" font-weight="normal" font-style="normal" fill="#000" stroke="#000" stroke-width="0.35" dominant-baseline="central" transform="rotate(-90 23.6 565.2)">ZAP-70 positive</text>
<text x="33.8" y="648.0" font-size="8.6" text-anchor="middle" font-weight="normal" font-style="normal" fill="#000" stroke="#000" stroke-width="0.6" dominant-baseline="central">DSP30</text>
<text x="82.6" y="647.5" font-size="9" text-anchor="middle" font-weight="bold" font-style="normal" fill="#000" stroke="#000" stroke-width="0.2" dominant-baseline="central">-</text>
<text x="133.2" y="647.0" font-size="9.5" text-anchor="middle" font-weight="bold" font-style="normal" fill="#000" stroke="#000" stroke-width="0.2" dominant-baseline="central">+</text>
<text x="198.8" y="647.5" font-size="9" text-anchor="middle" font-weight="bold" font-style="normal" fill="#000" stroke="#000" stroke-width="0.2" dominant-baseline="central">-</text>
<text x="247.3" y="647.0" font-size="9.5" text-anchor="middle" font-weight="bold" font-style="normal" fill="#000" stroke="#000" stroke-width="0.2" dominant-baseline="central">+</text>
<polyline points="93.1,410.5 135.5,410.5 135.5,439" fill="none" stroke="#000" stroke-width="1.0"/>
<text x="113.7" y="406.6" font-size="6.3" text-anchor="middle" font-weight="normal" font-style="normal" fill="#000" stroke="#000" stroke-width="0.35" dominant-baseline="central">p&lt;0.0001</text>
<line x1="82.8" y1="411.9" x2="134.2" y2="448.6" stroke="#000" stroke-width="1.5"/>
<line x1="82.8" y1="412.3" x2="134.2" y2="451.2" stroke="#000" stroke-width="1.5"/>
<line x1="82.8" y1="433.3" x2="134.2" y2="474.1" stroke="#000" stroke-width="1.5"/>
<line x1="82.8" y1="436.4" x2="134.2" y2="470.8" stroke="#000" stroke-width="1.5"/>
<line x1="82.8" y1="441.2" x2="134.2" y2="487.6" stroke="#000" stroke-width="1.5"/>
<line x1="82.8" y1="443.8" x2="134.2" y2="491" stroke="#000" stroke-width="1.5"/>
<line x1="82.8" y1="452.9" x2="134.2" y2="468.3" stroke="#000" stroke-width="1.5"/>
<line x1="82.8" y1="456" x2="134.2" y2="470.8" stroke="#000" stroke-width="1.5"/>
<line x1="82.8" y1="461" x2="134.2" y2="482.2" stroke="#000" stroke-width="1.5"/>
<line x1="82.8" y1="464" x2="134.2" y2="496.3" stroke="#000" stroke-width="1.5"/>
<line x1="82.8" y1="485.8" x2="134.2" y2="499.7" stroke="#000" stroke-width="1.5"/>
<circle cx="82.8" cy="411.9" r="2.6" fill="#fff" stroke="#000" stroke-width="1.15"/>
<circle cx="82.8" cy="412.3" r="2.6" fill="#fff" stroke="#000" stroke-width="1.15"/>
<circle cx="82.8" cy="433.3" r="2.6" fill="#fff" stroke="#000" stroke-width="1.15"/>
<circle cx="82.8" cy="436.4" r="2.6" fill="#fff" stroke="#000" stroke-width="1.15"/>
<circle cx="82.8" cy="441.2" r="2.6" fill="#fff" stroke="#000" stroke-width="1.15"/>
<circle cx="82.8" cy="443.8" r="2.6" fill="#fff" stroke="#000" stroke-width="1.15"/>
<circle cx="82.8" cy="452.9" r="2.6" fill="#fff" stroke="#000" stroke-width="1.15"/>
<circle cx="82.8" cy="456" r="2.6" fill="#fff" stroke="#000" stroke-width="1.15"/>
<circle cx="82.8" cy="461" r="2.6" fill="#fff" stroke="#000" stroke-width="1.15"/>
<circle cx="82.8" cy="464" r="2.6" fill="#fff" stroke="#000" stroke-width="1.15"/>
<circle cx="82.8" cy="485.8" r="2.6" fill="#fff" stroke="#000" stroke-width="1.15"/>
<circle cx="134.2" cy="448.6" r="2.6" fill="#fff" stroke="#000" stroke-width="1.15"/>
<circle cx="134.2" cy="451.2" r="2.6" fill="#fff" stroke="#000" stroke-width="1.15"/>
<circle cx="134.2" cy="474.1" r="2.6" fill="#fff" stroke="#000" stroke-width="1.15"/>
<circle cx="134.2" cy="470.8" r="2.6" fill="#fff" stroke="#000" stroke-width="1.15"/>
<circle cx="134.2" cy="487.6" r="2.6" fill="#fff" stroke="#000" stroke-width="1.15"/>
<circle cx="134.2" cy="491" r="2.6" fill="#fff" stroke="#000" stroke-width="1.15"/>
<circle cx="134.2" cy="468.3" r="2.6" fill="#fff" stroke="#000" stroke-width="1.15"/>
<circle cx="134.2" cy="470.8" r="2.6" fill="#fff" stroke="#000" stroke-width="1.15"/>
<circle cx="134.2" cy="482.2" r="2.6" fill="#fff" stroke="#000" stroke-width="1.15"/>
<circle cx="134.2" cy="496.3" r="2.6" fill="#fff" stroke="#000" stroke-width="1.15"/>
<circle cx="134.2" cy="499.7" r="2.6" fill="#fff" stroke="#000" stroke-width="1.15"/>
<polyline points="198.5,444.5 198.5,416.5 250.5,416.5 250.5,420.5" fill="none" stroke="#000" stroke-width="1.0"/>
<text x="226" y="411.5" font-size="6.3" text-anchor="middle" font-weight="normal" font-style="normal" fill="#000" stroke="#000" stroke-width="0.35" dominant-baseline="central">p=0.002</text>
<line x1="198.3" y1="454.5" x2="250.5" y2="426.3" stroke="#000" stroke-width="1.5"/>
<line x1="198.3" y1="492.5" x2="250.5" y2="467.5" stroke="#000" stroke-width="1.5"/>
<line x1="198.3" y1="493.5" x2="250.5" y2="470.5" stroke="#000" stroke-width="1.5"/>
<line x1="198.3" y1="494.5" x2="250.5" y2="473" stroke="#000" stroke-width="1.5"/>
<line x1="198.3" y1="498.8" x2="250.5" y2="482" stroke="#000" stroke-width="1.5"/>
<line x1="198.3" y1="498.8" x2="250.5" y2="486.3" stroke="#000" stroke-width="1.5"/>
<circle cx="198.3" cy="454.5" r="2.6" fill="#fff" stroke="#000" stroke-width="1.15"/>
<circle cx="198.3" cy="492.5" r="2.6" fill="#fff" stroke="#000" stroke-width="1.15"/>
<circle cx="198.3" cy="493.5" r="2.6" fill="#fff" stroke="#000" stroke-width="1.15"/>
<circle cx="198.3" cy="494.5" r="2.6" fill="#fff" stroke="#000" stroke-width="1.15"/>
<circle cx="198.3" cy="498.8" r="2.6" fill="#fff" stroke="#000" stroke-width="1.15"/>
<circle cx="198.3" cy="498.8" r="2.6" fill="#fff" stroke="#000" stroke-width="1.15"/>
<circle cx="250.5" cy="426.3" r="2.6" fill="#fff" stroke="#000" stroke-width="1.15"/>
<circle cx="250.5" cy="467.5" r="2.6" fill="#fff" stroke="#000" stroke-width="1.15"/>
<circle cx="250.5" cy="470.5" r="2.6" fill="#fff" stroke="#000" stroke-width="1.15"/>
<circle cx="250.5" cy="473" r="2.6" fill="#fff" stroke="#000" stroke-width="1.15"/>
<circle cx="250.5" cy="482" r="2.6" fill="#fff" stroke="#000" stroke-width="1.15"/>
<circle cx="250.5" cy="486.3" r="2.6" fill="#fff" stroke="#000" stroke-width="1.15"/>
<polyline points="83.5,580 83.5,564.5 134.5,564.5 134.5,592" fill="none" stroke="#000" stroke-width="1.0"/>
<text x="109.3" y="559.5" font-size="6.3" text-anchor="middle" font-weight="normal" font-style="normal" fill="#000" stroke="#000" stroke-width="0.35" dominant-baseline="central">p=0.021</text>
<line x1="83" y1="588" x2="134.3" y2="603.3" stroke="#000" stroke-width="1.5"/>
<line x1="83" y1="593.8" x2="134.3" y2="612.5" stroke="#000" stroke-width="1.5"/>
<line x1="83" y1="597" x2="134.3" y2="614.3" stroke="#000" stroke-width="1.5"/>
<line x1="83" y1="600" x2="134.3" y2="628" stroke="#000" stroke-width="1.5"/>
<line x1="83" y1="609.3" x2="134.3" y2="623.8" stroke="#000" stroke-width="1.5"/>
<circle cx="83" cy="588" r="2.6" fill="#fff" stroke="#000" stroke-width="1.15"/>
<circle cx="83" cy="593.8" r="2.6" fill="#fff" stroke="#000" stroke-width="1.15"/>
<circle cx="83" cy="597" r="2.6" fill="#fff" stroke="#000" stroke-width="1.15"/>
<circle cx="83" cy="600" r="2.6" fill="#fff" stroke="#000" stroke-width="1.15"/>
<circle cx="83" cy="609.3" r="2.6" fill="#fff" stroke="#000" stroke-width="1.15"/>
<circle cx="134.3" cy="603.3" r="2.6" fill="#fff" stroke="#000" stroke-width="1.15"/>
<circle cx="134.3" cy="612.5" r="2.6" fill="#fff" stroke="#000" stroke-width="1.15"/>
<circle cx="134.3" cy="614.3" r="2.6" fill="#fff" stroke="#000" stroke-width="1.15"/>
<circle cx="134.3" cy="628" r="2.6" fill="#fff" stroke="#000" stroke-width="1.15"/>
<circle cx="134.3" cy="623.8" r="2.6" fill="#fff" stroke="#000" stroke-width="1.15"/>
<polyline points="198.5,547.5 198.5,531.5 242.5,531.5" fill="none" stroke="#000" stroke-width="1.0"/>
<text x="219" y="527.3" font-size="6.3" text-anchor="middle" font-weight="normal" font-style="normal" fill="#000" stroke="#000" stroke-width="0.35" dominant-baseline="central">p&lt;0.0001</text>
<line x1="198.8" y1="557.5" x2="250.5" y2="533" stroke="#000" stroke-width="1.5"/>
<line x1="198.8" y1="578.3" x2="250.5" y2="548.8" stroke="#000" stroke-width="1.5"/>
<line x1="198.8" y1="584" x2="250.5" y2="548.8" stroke="#000" stroke-width="1.5"/>
<line x1="198.8" y1="578.3" x2="250.5" y2="570.5" stroke="#000" stroke-width="1.5"/>
<line x1="198.8" y1="584" x2="250.5" y2="585.5" stroke="#000" stroke-width="1.5"/>
<line x1="198.8" y1="592.5" x2="250.5" y2="566.3" stroke="#000" stroke-width="1.5"/>
<line x1="198.8" y1="597.5" x2="250.5" y2="580" stroke="#000" stroke-width="1.5"/>
<line x1="198.8" y1="601" x2="250.5" y2="574.5" stroke="#000" stroke-width="1.5"/>
<line x1="198.8" y1="608" x2="250.5" y2="592" stroke="#000" stroke-width="1.5"/>
<line x1="198.8" y1="612.7" x2="250.5" y2="570.5" stroke="#000" stroke-width="1.5"/>
<line x1="198.8" y1="616.7" x2="250.5" y2="585.5" stroke="#000" stroke-width="1.5"/>
<line x1="198.8" y1="619" x2="250.5" y2="598.8" stroke="#000" stroke-width="1.5"/>
<circle cx="198.8" cy="557.5" r="2.6" fill="#fff" stroke="#000" stroke-width="1.15"/>
<circle cx="198.8" cy="578.3" r="2.6" fill="#fff" stroke="#000" stroke-width="1.15"/>
<circle cx="198.8" cy="584" r="2.6" fill="#fff" stroke="#000" stroke-width="1.15"/>
<circle cx="198.8" cy="578.3" r="2.6" fill="#fff" stroke="#000" stroke-width="1.15"/>
<circle cx="198.8" cy="584" r="2.6" fill="#fff" stroke="#000" stroke-width="1.15"/>
<circle cx="198.8" cy="592.5" r="2.6" fill="#fff" stroke="#000" stroke-width="1.15"/>
<circle cx="198.8" cy="597.5" r="2.6" fill="#fff" stroke="#000" stroke-width="1.15"/>
<circle cx="198.8" cy="601" r="2.6" fill="#fff" stroke="#000" stroke-width="1.15"/>
<circle cx="198.8" cy="608" r="2.6" fill="#fff" stroke="#000" stroke-width="1.15"/>
<circle cx="198.8" cy="612.7" r="2.6" fill="#fff" stroke="#000" stroke-width="1.15"/>
<circle cx="198.8" cy="616.7" r="2.6" fill="#fff" stroke="#000" stroke-width="1.15"/>
<circle cx="198.8" cy="619" r="2.6" fill="#fff" stroke="#000" stroke-width="1.15"/>
<circle cx="250.5" cy="533" r="2.6" fill="#fff" stroke="#000" stroke-width="1.15"/>
<circle cx="250.5" cy="548.8" r="2.6" fill="#fff" stroke="#000" stroke-width="1.15"/>
<circle cx="250.5" cy="548.8" r="2.6" fill="#fff" stroke="#000" stroke-width="1.15"/>
<circle cx="250.5" cy="570.5" r="2.6" fill="#fff" stroke="#000" stroke-width="1.15"/>
<circle cx="250.5" cy="585.5" r="2.6" fill="#fff" stroke="#000" stroke-width="1.15"/>
<circle cx="250.5" cy="566.3" r="2.6" fill="#fff" stroke="#000" stroke-width="1.15"/>
<circle cx="250.5" cy="580" r="2.6" fill="#fff" stroke="#000" stroke-width="1.15"/>
<circle cx="250.5" cy="574.5" r="2.6" fill="#fff" stroke="#000" stroke-width="1.15"/>
<circle cx="250.5" cy="592" r="2.6" fill="#fff" stroke="#000" stroke-width="1.15"/>
<circle cx="250.5" cy="570.5" r="2.6" fill="#fff" stroke="#000" stroke-width="1.15"/>
<circle cx="250.5" cy="585.5" r="2.6" fill="#fff" stroke="#000" stroke-width="1.15"/>
<circle cx="250.5" cy="598.8" r="2.6" fill="#fff" stroke="#000" stroke-width="1.15"/>
<line x1="350.3" y1="412.5" x2="519.2" y2="412.5" stroke="#6a6a6a" stroke-width="0.9" stroke-dasharray="2.3,0.85"/>
<line x1="347.3" y1="412.5" x2="350.3" y2="412.5" stroke="#000" stroke-width="1.0"/>
<text x="340.2" y="410.4" font-size="8.3" text-anchor="end" font-weight="normal" font-style="normal" fill="#000" stroke="#000" stroke-width="0.35" dominant-baseline="central">100 %</text>
<line x1="350.3" y1="431.5" x2="519.2" y2="431.5" stroke="#6a6a6a" stroke-width="0.9" stroke-dasharray="2.3,0.85"/>
<line x1="347.3" y1="431.5" x2="350.3" y2="431.5" stroke="#000" stroke-width="1.0"/>
<text x="340.2" y="428.4" font-size="8.3" text-anchor="end" font-weight="normal" font-style="normal" fill="#000" stroke="#000" stroke-width="0.35" dominant-baseline="central">80 %</text>
<line x1="350.3" y1="450.5" x2="519.2" y2="450.5" stroke="#6a6a6a" stroke-width="0.9" stroke-dasharray="2.3,0.85"/>
<line x1="347.3" y1="450.5" x2="350.3" y2="450.5" stroke="#000" stroke-width="1.0"/>
<text x="340.2" y="447.4" font-size="8.3" text-anchor="end" font-weight="normal" font-style="normal" fill="#000" stroke="#000" stroke-width="0.35" dominant-baseline="central">60 %</text>
<line x1="350.3" y1="469.5" x2="519.2" y2="469.5" stroke="#6a6a6a" stroke-width="0.9" stroke-dasharray="2.3,0.85"/>
<line x1="347.3" y1="469.5" x2="350.3" y2="469.5" stroke="#000" stroke-width="1.0"/>
<text x="340.2" y="466.6" font-size="8.3" text-anchor="end" font-weight="normal" font-style="normal" fill="#000" stroke="#000" stroke-width="0.35" dominant-baseline="central">40 %</text>
<line x1="350.3" y1="488.5" x2="519.2" y2="488.5" stroke="#6a6a6a" stroke-width="0.9" stroke-dasharray="2.3,0.85"/>
<line x1="347.3" y1="488.5" x2="350.3" y2="488.5" stroke="#000" stroke-width="1.0"/>
<text x="340.2" y="485.8" font-size="8.3" text-anchor="end" font-weight="normal" font-style="normal" fill="#000" stroke="#000" stroke-width="0.35" dominant-baseline="central">20 %</text>
<rect x="363.5" y="412.5" width="17.0" height="95.0" fill="#a6a6a6" stroke="#111" stroke-width="1.0"/>
<rect x="406.5" y="412.5" width="16.0" height="16.0" fill="#585858" stroke="#111" stroke-width="1.0"/>
<rect x="406.5" y="428.5" width="16.0" height="79.0" fill="#a6a6a6" stroke="#111" stroke-width="1.0"/>
<rect x="448.5" y="412.5" width="16.0" height="57.0" fill="#585858" stroke="#111" stroke-width="1.0"/>
<rect x="448.5" y="469.5" width="16.0" height="38.0" fill="#a6a6a6" stroke="#111" stroke-width="1.0"/>
<rect x="491.5" y="412.5" width="15.0" height="69.0" fill="#585858" stroke="#111" stroke-width="1.0"/>
<rect x="491.5" y="481.5" width="15.0" height="26.0" fill="#a6a6a6" stroke="#111" stroke-width="1.0"/>
<line x1="350.5" y1="393.1" x2="350.5" y2="579.6" stroke="#000" stroke-width="1.1"/>
<line x1="350.3" y1="393.5" x2="519.2" y2="393.5" stroke="#000" stroke-width="1.1"/>
<line x1="519.5" y1="393.1" x2="519.5" y2="579.6" stroke="#000" stroke-width="1.1"/>
<line x1="349.8" y1="507.5" x2="519.7" y2="507.5" stroke="#000" stroke-width="1.1"/>
<line x1="393.5" y1="507.5" x2="393.5" y2="562.3" stroke="#000" stroke-width="1.0"/>
<line x1="435.5" y1="507.5" x2="435.5" y2="579.6" stroke="#000" stroke-width="1.0"/>
<line x1="477.5" y1="507.5" x2="477.5" y2="562.3" stroke="#000" stroke-width="1.0"/>
<rect x="354.5" y="398.5" width="16.0" height="6.0" fill="#a6a6a6" stroke="#222" stroke-width="1.0"/>
<text x="374.3" y="401.4" font-size="8.4" text-anchor="start" font-weight="normal" font-style="normal" fill="#000" stroke="#000" stroke-width="0.35" dominant-baseline="central">Mutated IGVH</text>
<rect x="433.5" y="398.5" width="15.0" height="6.0" fill="#585858" stroke="#222" stroke-width="1.0"/>
<text x="453.8" y="401.4" font-size="8.4" text-anchor="start" font-weight="normal" font-style="normal" fill="#000" stroke="#000" stroke-width="0.35" dominant-baseline="central">Unmutated IGVH</text>
<text x="373.1" y="536.6" font-size="8.3" text-anchor="middle" font-weight="normal" font-style="normal" fill="#000" stroke="#000" stroke-width="0.35" dominant-baseline="central" transform="rotate(-90 373.1 536.6)">pro-apoptotic</text>
<text x="414.8" y="537" font-size="8.3" text-anchor="middle" font-weight="normal" font-style="normal" fill="#000" stroke="#000" stroke-width="0.35" dominant-baseline="central" transform="rotate(-90 414.8 537)">anti-apoptotic</text>
<text x="456" y="536.6" font-size="8.3" text-anchor="middle" font-weight="normal" font-style="normal" fill="#000" stroke="#000" stroke-width="0.35" dominant-baseline="central" transform="rotate(-90 456 536.6)">pro-apoptotic</text>
<text x="498" y="537" font-size="8.3" text-anchor="middle" font-weight="normal" font-style="normal" fill="#000" stroke="#000" stroke-width="0.35" dominant-baseline="central" transform="rotate(-90 498 537)">anti-apoptotic</text>
<text x="396.9" y="575.8" font-size="8.3" text-anchor="middle" font-weight="normal" font-style="normal" fill="#000" stroke="#000" stroke-width="0.35" dominant-baseline="central">ZAP-70 negative</text>
<text x="476.1" y="575.8" font-size="8.3" text-anchor="middle" font-weight="normal" font-style="normal" fill="#000" stroke="#000" stroke-width="0.35" dominant-baseline="central">ZAP-70 positive</text>
</svg>
</body></html>
